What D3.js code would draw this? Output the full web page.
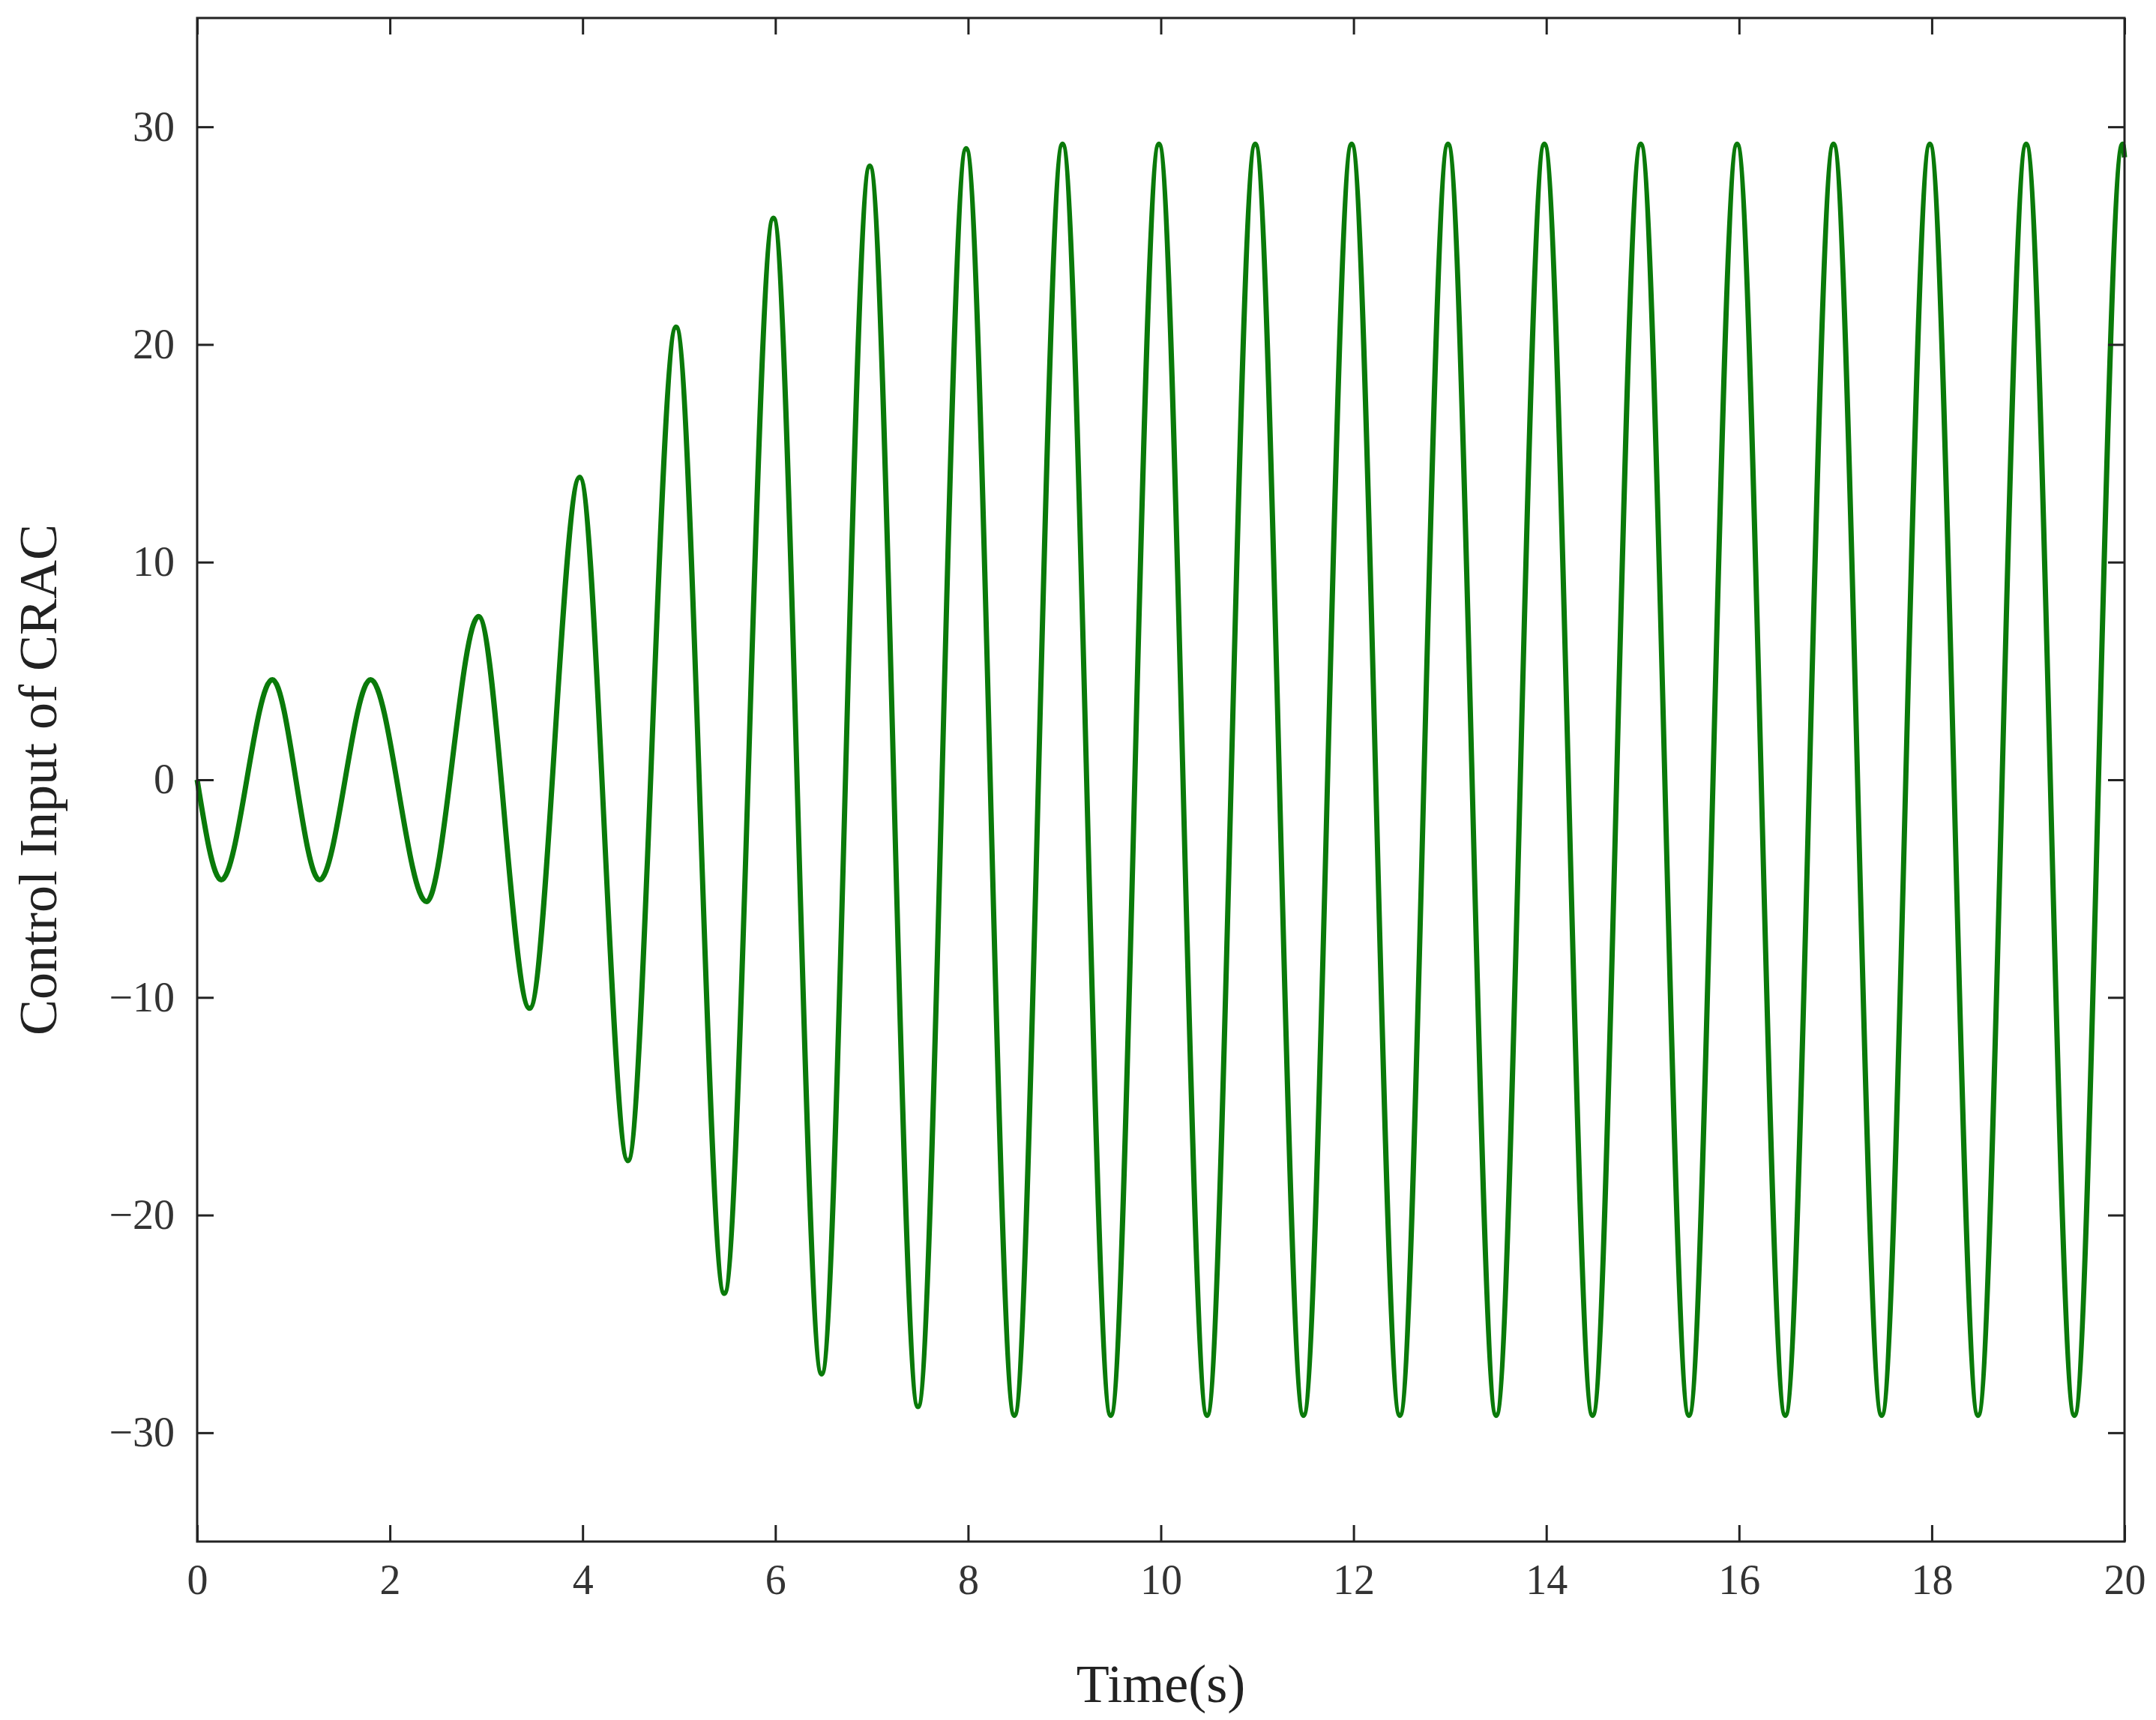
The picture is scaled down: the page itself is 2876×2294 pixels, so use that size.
<!DOCTYPE html>
<html><head><meta charset="utf-8">
<script src="https://cdn.jsdelivr.net/npm/d3@7"></script>
<style>body{margin:0;background:#fff}</style></head>
<body><svg id="c" width="2876" height="2294"></svg>
<script>
const times = [0,0.25,0.78,1.27,1.8,2.38,2.92,3.45,3.97,4.47,4.97,5.47,5.98,6.48,6.98,7.48,7.98,8.48,8.98,9.48,9.98,10.48,10.98,11.48,11.98,12.48,12.98,13.48,13.98,14.48,14.98,15.48,15.98,16.48,16.98,17.48,17.98,18.48,18.98,19.48,19.98,20];
const values = [0,-4.6,4.6,-4.6,4.6,-5.6,7.5,-10.5,13.9,-17.5,20.8,-23.6,25.8,-27.3,28.2,-28.8,29.0,-29.2,29.2,-29.2,29.2,-29.2,29.2,-29.2,29.2,-29.2,29.2,-29.2,29.2,-29.2,29.2,-29.2,29.2,-29.2,29.2,-29.2,29.2,-29.2,29.2,-29.2,29.2,28.6];
const xTicks = [0,2,4,6,8,10,12,14,16,18,20];
const yTicks = [-30,-20,-10,0,10,20,30];

const svg = d3.select('#c');
const L=263,R=2834,T=24,B=2056;
const x = d3.scaleLinear().domain([0,20]).range([L,R]);
const y = d3.scaleLinear().domain([-35,35]).range([B,T]);
const font='Liberation Serif, Times New Roman, serif';
const data = times.map((t,i)=>[t,values[i]]);
svg.append('path').datum(data)
  .attr('d', d3.line().x(d=>x(d[0])).y(d=>y(d[1])).curve(d3.curveMonotoneX))
  .attr('fill','none').attr('stroke','#0a7a0a').attr('stroke-width',7);
const tl=22;
function style(g){g.selectAll('.domain').remove();g.selectAll('line').attr('stroke','#222').attr('stroke-width',3);g.selectAll('text').attr('font-family',font).attr('font-size',56).attr('fill','#333');}
svg.append('g').attr('transform',`translate(0,${B})`).call(d3.axisBottom(x).tickValues(xTicks).tickSize(-tl).tickPadding(30)).call(style);
svg.append('g').attr('transform',`translate(0,${T})`).call(d3.axisTop(x).tickValues(xTicks).tickSize(-tl).tickFormat('')).call(style);
svg.append('g').attr('transform',`translate(${L},0)`).call(d3.axisLeft(y).tickValues(yTicks).tickSize(-tl).tickPadding(30)).call(style);
svg.append('g').attr('transform',`translate(${R},0)`).call(d3.axisRight(y).tickValues(yTicks).tickSize(-tl).tickFormat('')).call(style);
svg.append('rect').attr('x',L).attr('y',T).attr('width',R-L).attr('height',B-T).attr('fill','none').attr('stroke','#222').attr('stroke-width',3);
svg.append('text').attr('x',(L+R)/2).attr('y',2270).attr('text-anchor','middle').attr('font-family',font).attr('font-size',72).attr('fill','#222').text('Time(s)');
svg.append('text').attr('transform',`translate(75,${(T+B)/2}) rotate(-90)`).attr('text-anchor','middle').attr('font-family',font).attr('font-size',72).attr('fill','#222').text('Control Input of CRAC');
</script></body></html>
